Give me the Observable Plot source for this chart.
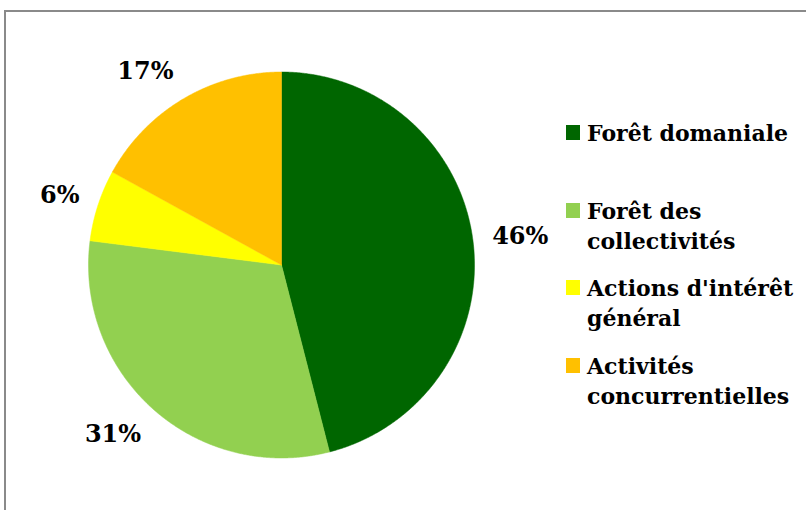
<!DOCTYPE html>
<html>
<head>
<meta charset="utf-8">
<script src="https://cdn.jsdelivr.net/npm/d3@7"></script>
<script src="https://cdn.jsdelivr.net/npm/@observablehq/plot@0.6"></script>
<style>
  html, body { margin: 0; padding: 0; background: #fff; overflow: hidden; }
  #wrap { position: relative; width: 806px; height: 510px; overflow: hidden; }
  #frame { position: absolute; left: 4px; top: 10px; width: 1000px; height: 1000px;
           border-left: 2px solid #8a8a8a; border-top: 2px solid #8a8a8a; }
  #chart { position: absolute; left: 0; top: 0; }
  #legend { position: absolute; left: 566px; top: 0; font-family: "DejaVu Serif", serif;
            font-weight: bold; font-size: 22px; line-height: 30px; color: #000; }
  .item { position: absolute; left: 0; display: flex; align-items: flex-start; white-space: nowrap; }
  .sw { width: 14px; height: 15px; margin-top: 7px; margin-right: 7px; flex: none; }
</style>
</head>
<body>
<div id="wrap">
  <div id="frame"></div>
  <div id="chart"></div>
  <div id="legend"></div>
</div>
<script>
const categories = ["Forêt domaniale", "Forêt des collectivités", "Actions d'intérêt général", "Activités concurrentielles"];
const legendLines = [["Forêt domaniale"], ["Forêt des", "collectivités"], ["Actions d'intérêt", "général"], ["Activités", "concurrentielles"]];
const values = [46, 31, 6, 17];
const labels = ["46%", "31%", "6%", "17%"];
const colors = ["#006600", "#92D050", "#FFFF00", "#FFC000"];

// layout
const cx = 281, cy = 264.5, rpx = 193;
const labelK = 1.1, halfH = 13;

const arcs = d3.pie().sort(null).value(d => d)(values);

const poly = [];
arcs.forEach((a, i) => {
  const cat = categories[i];
  poly.push({cat, x: 0, y: 0});
  const n = Math.max(2, Math.ceil((a.endAngle - a.startAngle) / 0.005));
  for (let j = 0; j <= n; j++) {
    const t = a.startAngle + (a.endAngle - a.startAngle) * j / n;
    poly.push({cat, x: Math.sin(t), y: Math.cos(t)});
  }
  poly.push({cat, x: 0, y: 0});
});

const lab = arcs.map((a, i) => {
  const m = (a.startAngle + a.endAngle) / 2;
  return {
    text: labels[i],
    side: Math.sin(m) >= 0 ? "right" : "left",
    x: labelK * Math.sin(m),
    y: labelK * Math.cos(m) + Math.cos(m) * halfH / rpx
  };
});

const textOpts = {fontFamily: "DejaVu Serif, serif", fontWeight: "bold", fontSize: 24, fill: "#000", lineAnchor: "middle"};

const chart = Plot.plot({
  width: 806,
  height: 510,
  margin: 0,
  x: {domain: [-1, 1], range: [cx - rpx, cx + rpx], axis: null},
  y: {domain: [-1, 1], range: [cy + rpx, cy - rpx], axis: null},
  color: {domain: categories, range: colors},
  style: {background: "transparent", overflow: "visible"},
  marks: [
    Plot.line(poly, {x: "x", y: "y", z: "cat", fill: "cat", stroke: "cat", strokeWidth: 0.5, curve: "linear"}),
    Plot.text(lab.filter(d => d.side === "right"), {x: "x", y: "y", text: "text", textAnchor: "start", ...textOpts}),
    Plot.text(lab.filter(d => d.side === "left"), {x: "x", y: "y", text: "text", textAnchor: "end", ...textOpts})
  ]
});
document.getElementById("chart").appendChild(chart);

const legend = document.getElementById("legend");
const firstTop = 118, step = 77.7;
legendLines.forEach((lines, i) => {
  const it = document.createElement("div");
  it.className = "item";
  it.style.top = (firstTop + i * step) + "px";
  const sw = document.createElement("div");
  sw.className = "sw";
  sw.style.background = colors[i];
  const tx = document.createElement("div");
  tx.innerHTML = lines.map(l => l.replace(/&/g, "&amp;").replace(/</g, "&lt;")).join("<br>");
  it.appendChild(sw);
  it.appendChild(tx);
  legend.appendChild(it);
});
</script>
</body>
</html>
